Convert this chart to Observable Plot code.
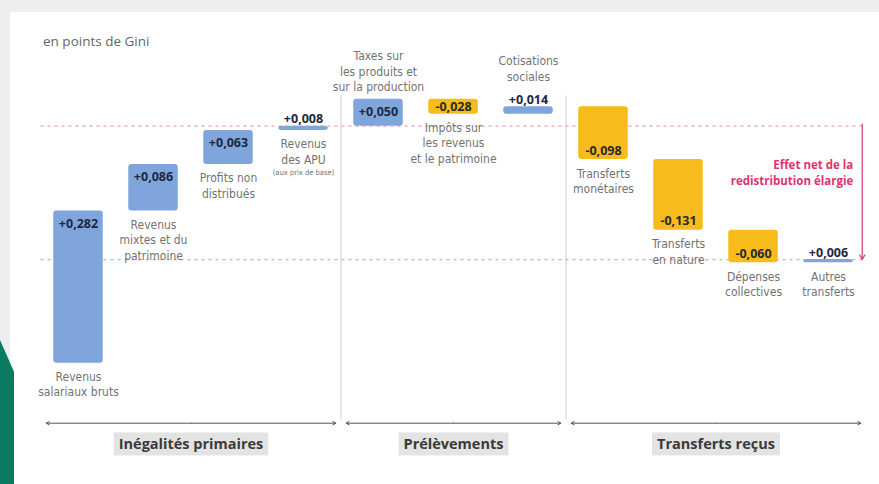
<!DOCTYPE html>
<html><head><meta charset="utf-8">
<script src="https://cdn.jsdelivr.net/npm/d3@7"></script>
<script src="https://cdn.jsdelivr.net/npm/@observablehq/plot@0.6"></script>
<style>
html,body{margin:0;padding:0;}
body{width:879px;height:484px;overflow:hidden;background:#eeeeee;position:relative;font-family:"Open Sans",sans-serif;}
#card{position:absolute;left:10px;top:12px;right:0;bottom:0;background:#fff;}
#teal{position:absolute;left:0;top:340px;width:14px;height:144px;background:#0b7a63;clip-path:polygon(0 0,100% 22%,100% 100%,0 100%);}
#chart{position:absolute;left:0;top:0;}
#title{position:absolute;left:43px;top:32px;font-size:13.5px;color:#666;}
</style></head><body>
<div id="card"></div><div id="teal"></div>
<div id="chart"></div>
<div id="title">en points de Gini</div>
<script>
const categories = [
  "Revenus\nsalariaux bruts",
  "Revenus\nmixtes et du\npatrimoine",
  "Profits non\ndistribués",
  "Revenus\ndes APU",
  "Taxes sur\nles produits et\nsur la production",
  "Impôts sur\nles revenus\net le patrimoine",
  "Cotisations\nsociales",
  "Transferts\nmonétaires",
  "Transferts\nen nature",
  "Dépenses\ncollectives",
  "Autres\ntransferts"
];
const notes = ["", "", "", "(aux prix de base)", "", "", "", "", "", "", ""];
const values = [0.282, 0.086, 0.063, 0.008, 0.050, -0.028, 0.014, -0.098, -0.131, -0.060, 0.006];
const groupNames = ["Inégalités primaires", "Prélèvements", "Transferts reçus"];
const groupOf = [0, 0, 0, 0, 1, 1, 1, 2, 2, 2, 2];
const netLabel = "Effet net de la\nredistribution élargie";

const fr = d3.formatLocale({decimal: ",", thousands: " ", grouping: [3], currency: ["", " €"], minus: "-"});
const fmt = fr.format("+.3f");

let cum = 0;
const rows = values.map((v, i) => {
  const start = cum; cum += v;
  return {i, v, start, end: cum, lo: Math.min(start, cum), hi: Math.max(start, cum),
          label: categories[i], note: notes[i], group: groupOf[i], text: fmt(v)};
});
const finalTotal = cum;
const primaryTotal = rows.filter(d => d.group === 0).slice(-1)[0].end;

const groups = groupNames.map((name, g) => {
  const idx = rows.filter(d => d.group === g).map(d => d.i);
  const first = d3.min(idx), last = d3.max(idx);
  return {name, lo: first - 0.43, hi: last + 0.43, mid: (first + last) / 2};
});
const separators = rows.filter((d, k) => k > 0 && d.group !== rows[k - 1].group).map(d => d.i - 0.5);

const W = 0.33;
const narrow = "'Liberation Sans Narrow','DejaVu Sans Condensed','Roboto Condensed','Noto Sans',sans-serif";
const bold = "'Open Sans','Noto Sans',sans-serif";
const navy = "#1d2742";
const grey = "#737373";
const isAbove = d => d.group === 1 && d.v > 0;
const small = d => Math.abs(d.v) < 0.02;
const mid = d => Math.abs(d.v) >= 0.02 && Math.abs(d.v) < 0.04;
const big = d => Math.abs(d.v) >= 0.04;

const plot = Plot.plot({
  width: 879, height: 484,
  marginTop: 0, marginBottom: 0, marginLeft: 0, marginRight: 0,
  x: {domain: [-1.04, 10.68], axis: null},
  y: {domain: [-0.2245, 0.6716], axis: null},
  style: {background: "transparent", fontFamily: bold},
  marks: [
    Plot.ruleX(separators, {y1: -0.105, y2: 0.495, stroke: "#d0d0d0", strokeWidth: 1}),
    Plot.ruleY([primaryTotal, finalTotal], {x1: -0.5, x2: 10.47, stroke: "#e9a0b5", strokeWidth: 1.3, strokeDasharray: "3,4"}),
    Plot.rect(rows.filter(d => d.v >= 0), {x1: d => d.i - W, x2: d => d.i + W, y1: "lo", y2: "hi", fill: "#80a5dc", rx: 3}),
    Plot.rect(rows.filter(d => d.v < 0), {x1: d => d.i - W, x2: d => d.i + W, y1: "lo", y2: "hi", fill: "#f7bb1b", rx: 3}),
    // value labels
    Plot.text(rows.filter(d => big(d) && d.v > 0), {x: "i", y: "hi", text: "text", lineAnchor: "top", dy: 8, fontWeight: "bold", fontSize: 12.5, fill: navy, fontFamily: bold}),
    Plot.text(rows.filter(d => big(d) && d.v < 0), {x: "i", y: "lo", text: "text", lineAnchor: "bottom", dy: -5, fontWeight: "bold", fontSize: 12.5, fill: "#2a2a2a", fontFamily: bold}),
    Plot.text(rows.filter(mid), {x: "i", y: d => (d.lo + d.hi) / 2, text: "text", lineAnchor: "middle", fontWeight: "bold", fontSize: 12.5, fill: "#2a2a2a", fontFamily: bold}),
    Plot.text(rows.filter(small), {x: "i", y: "hi", text: "text", lineAnchor: "bottom", dy: -3, fontWeight: "bold", fontSize: 12.5, fill: navy, fontFamily: bold}),
    // category labels
    Plot.text(rows.filter(d => !isAbove(d)), {x: "i", y: "lo", text: "label", lineAnchor: "top", dy: 7, fontSize: 12, lineHeight: 1.28, fill: grey, fontFamily: narrow}),
    Plot.text(rows.filter(d => isAbove(d) && !small(d)), {x: "i", y: "hi", text: "label", lineAnchor: "bottom", dy: -8, fontSize: 12, lineHeight: 1.28, fill: grey, fontFamily: narrow}),
    Plot.text(rows.filter(d => isAbove(d) && small(d)), {x: "i", y: "hi", text: "label", lineAnchor: "bottom", dy: -26, fontSize: 12, lineHeight: 1.28, fill: grey, fontFamily: narrow}),
    rows.filter(d => d.note).map(d => Plot.text([d], {x: "i", y: "lo", text: "note", lineAnchor: "top", dy: 8 + d.label.split("\n").length * 15.4, fontSize: 7.5, fill: grey, fontFamily: narrow})),
    // net effect
    Plot.arrow([0], {x1: 10.45, x2: 10.45, y1: primaryTotal + 0.004, y2: finalTotal, stroke: "#e0457a", strokeWidth: 1.3, headLength: 6}),
    Plot.text([netLabel], {x: 10.33, y: primaryTotal, text: d => d, dy: 31, textAnchor: "end", lineAnchor: "top", lineHeight: 1.4, fontSize: 11.5, fontWeight: "bold", fill: "#e0336f", fontFamily: bold}),
    // group arrows
    Plot.arrow(groups, {x1: "mid", x2: "lo", y1: -0.111, y2: -0.111, stroke: "#555", strokeWidth: 1, headLength: 5}),
    Plot.arrow(groups, {x1: "mid", x2: "hi", y1: -0.111, y2: -0.111, stroke: "#555", strokeWidth: 1, headLength: 5}),
    Plot.text(groups, {x: "mid", y: -0.151, text: "name", fontSize: 14.5, fontWeight: "bold", fill: "#3a3a3a", fontFamily: bold, ariaLabel: "groups"})
  ]
});
document.getElementById("chart").append(plot);

// background boxes behind the group names
let texts = plot.querySelectorAll('g[aria-label="groups"] text');
if (!texts.length) texts = Array.from(plot.querySelectorAll("text")).filter(t => groupNames.includes(t.textContent));
texts.forEach(t => {
  const b = t.getBBox();
  const r = document.createElementNS("http://www.w3.org/2000/svg", "rect");
  r.setAttribute("x", b.x - 5); r.setAttribute("y", b.y - 2);
  r.setAttribute("width", b.width + 10); r.setAttribute("height", b.height + 4);
  r.setAttribute("fill", "#e3e3e3");
  if (t.getAttribute("transform")) r.setAttribute("transform", t.getAttribute("transform"));
  t.parentNode.insertBefore(r, t);
});
</script>
</body></html>
